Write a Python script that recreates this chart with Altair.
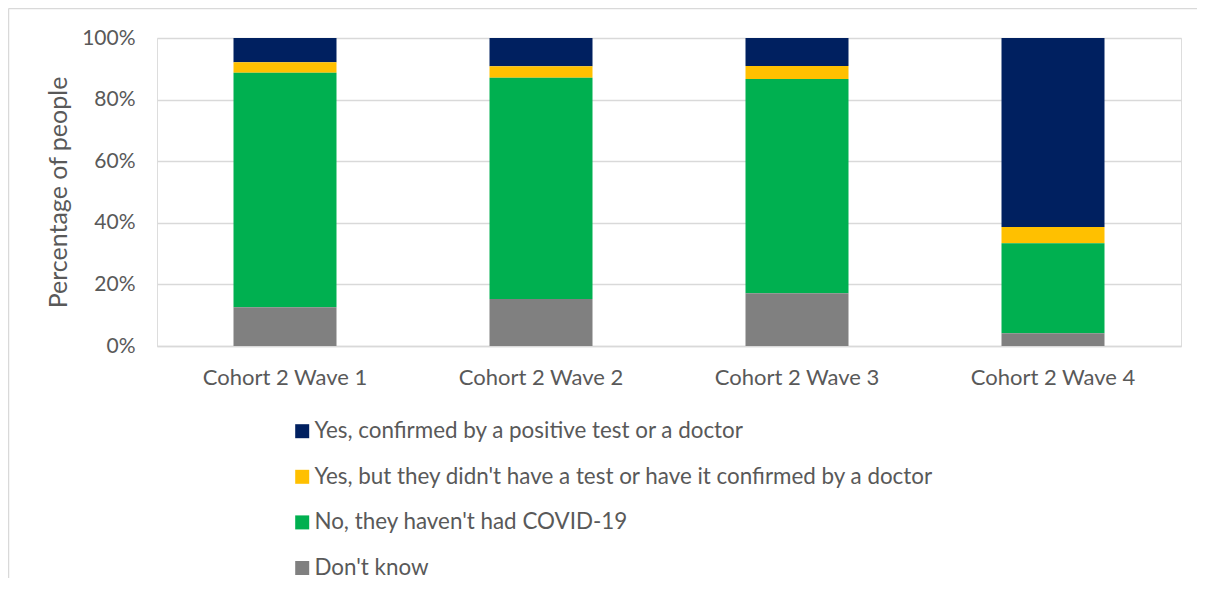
import altair as alt
import pandas as pd

waves = ["Cohort 2 Wave 1", "Cohort 2 Wave 2", "Cohort 2 Wave 3", "Cohort 2 Wave 4"]
categories = [
    "Yes, confirmed by a positive test or a doctor",
    "Yes, but they didn't have a test or have it confirmed by a doctor",
    "No, they haven't had COVID-19",
    "Don't know",
]
colors = ["#002060", "#FFC000", "#00B050", "#808080"]

confirmed = [7.9, 9.2, 9.1, 61.4]
unconfirmed = [3.4, 3.7, 4.2, 5.2]
no_covid = [76.1, 71.8, 69.6, 29.3]
dont_know = [12.6, 15.3, 17.1, 4.1]

series = [confirmed, unconfirmed, no_covid, dont_know]
rows = []
for ci, (cat, vals) in enumerate(zip(categories, series)):
    for w, v in zip(waves, vals):
        rows.append({"wave": w, "category": cat, "value": v / 100.0, "order": 3 - ci})
df = pd.DataFrame(rows)

FONT = "Lato"
TXT = "#595959"
GRID = "#d9d9d9"

bars = alt.Chart(df).mark_bar(size=103).encode(
    x=alt.X("wave:N", sort=waves, title=None,
            scale=alt.Scale(paddingInner=0, paddingOuter=0),
            axis=alt.Axis(labelAngle=0, ticks=False, domainColor=GRID, domainWidth=1.5,
                          labelFontSize=22, labelColor=TXT, labelFont=FONT, labelPadding=21)),
    y=alt.Y("value:Q", stack="zero", title="Percentage of people",
            scale=alt.Scale(domain=[0, 1], nice=False),
            axis=alt.Axis(values=[0, 0.2, 0.4, 0.6, 0.8, 1.0], format=".0%", ticks=False, domain=False,
                          gridColor=GRID, gridWidth=1.5,
                          labelFontSize=21, labelColor=TXT, labelFont=FONT, labelPadding=22,
                          titleFontSize=25, titleColor=TXT, titleFont=FONT, titleFontWeight="normal",
                          titlePadding=10)),
    color=alt.Color("category:N", sort=categories,
                    scale=alt.Scale(domain=categories, range=colors),
                    legend=alt.Legend(title=None, orient="none", legendX=134, legendY=382,
                                      direction="vertical", symbolType="square", symbolSize=196,
                                      symbolStrokeWidth=0, labelFontSize=22.4, labelColor=TXT,
                                      labelFont=FONT, labelLimit=900, rowPadding=22.6,
                                      labelOffset=1)),
    order=alt.Order("order:Q", sort="ascending"),
)

frame_df = pd.DataFrame({"a": [0]})
frame_top = alt.Chart(frame_df).mark_rule(color=GRID, strokeWidth=1.5, clip=False).encode(
    x=alt.value(-148.5), x2=alt.value(1060), y=alt.value(-29.5))
frame_left = alt.Chart(frame_df).mark_rule(color=GRID, strokeWidth=1.5, clip=False).encode(
    x=alt.value(-148.5), y=alt.value(-29.5), y2=alt.value(540))

chart = alt.layer(frame_top, frame_left, bars).properties(
    width=1024, height=308,
    autosize=alt.AutoSizeParams(type="none"),
    padding={"left": 149, "top": 30, "right": 16, "bottom": 237},
).configure_view(stroke=None).configure(background="white")

chart.save("out.html", embed_options={"renderer": "svg", "actions": False})
